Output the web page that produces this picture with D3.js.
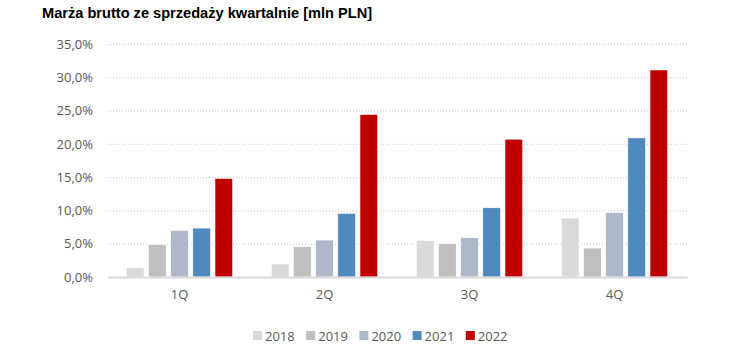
<!DOCTYPE html>
<html><head><meta charset="utf-8">
<script src="https://cdn.jsdelivr.net/npm/d3@7"></script>
<style>body{margin:0;background:#fff}svg{display:block}</style>
</head><body>
<svg id="c" width="750" height="356"></svg>
<script>
const categories = ["1Q","2Q","3Q","4Q"];
const seriesNames = ["2018","2019","2020","2021","2022"];
const s2018 = [1.4, 1.95, 5.45, 8.85];
const s2019 = [4.85, 4.55, 5.0, 4.35];
const s2020 = [7.0, 5.55, 5.9, 9.7];
const s2021 = [7.35, 9.55, 10.4, 20.9];
const s2022 = [14.8, 24.4, 20.7, 31.1];
const yTicks = [0,5,10,15,20,25,30,35];
const colors = ["#d9d9d9","#bfbfbf","#adb9ca","#4f89bd","#c00000"];
const title = "Marża brutto ze sprzedaży kwartalnie [mln PLN]";

const series = [s2018,s2019,s2020,s2021,s2022];
const svg = d3.select("#c");
const x = d3.scaleBand().domain(categories).range([107,687]).paddingInner(0).paddingOuter(0);
const xs = d3.scaleBand().domain(seriesNames).range([0,x.bandwidth()]).paddingInner(0.2).paddingOuter(0.87);
const y = d3.scaleLinear().domain([0,35]).range([277,44]);
const fmt = v => v.toFixed(1).replace(".",",") + "%";

svg.append("text").attr("x",42).attr("y",17.5).text(title)
  .attr("font-family","Liberation Sans, Arial, sans-serif").attr("font-weight","bold").attr("font-size",14.6).attr("fill","#000");

const yAxis = d3.axisLeft(y).tickValues(yTicks).tickFormat(fmt).tickSize(0).tickPadding(14);
const gy = svg.append("g").attr("transform","translate(107,0)").call(yAxis);
gy.select(".domain").remove();
gy.selectAll("text").attr("font-family","Open Sans, sans-serif").attr("font-size",13).attr("fill","#595959");

svg.append("g").selectAll("line").data(yTicks.filter(d=>d>0)).join("line")
  .attr("x1",107).attr("x2",687).attr("y1",d=>y(d)+0.5).attr("y2",d=>y(d)+0.5)
  .attr("stroke","#c8c8c8").attr("stroke-width",1).attr("stroke-dasharray","1,2");

const g = svg.append("g");
categories.forEach((c,i)=>{
  seriesNames.forEach((s,j)=>{
    g.append("rect").attr("x",x(c)+xs(s)).attr("y",y(series[j][i]))
      .attr("width",xs.bandwidth()).attr("height",y(0)-y(series[j][i]))
      .attr("fill",colors[j]).attr("stroke","#fff").attr("stroke-width",0.6);
  });
});

const xAxis = d3.axisBottom(x).tickSize(0).tickPadding(13);
const gx = svg.append("g").attr("transform","translate(0,277)").call(xAxis);
gx.select(".domain").attr("stroke","#d9d9d9").attr("stroke-width",2);
gx.selectAll("text").attr("font-family","Open Sans, sans-serif").attr("font-size",13).attr("fill","#595959");

const lx = d3.scaleBand().domain(seriesNames).range([253,519]);
const lg = svg.append("g").selectAll("g").data(seriesNames).join("g")
  .attr("transform",d=>`translate(${lx(d)},331)`);
lg.append("rect").attr("width",9).attr("height",9).attr("fill",(d,i)=>colors[i]);
lg.append("text").attr("x",12).attr("y",10).text(d=>d)
  .attr("font-family","Open Sans, sans-serif").attr("font-size",13).attr("fill","#595959");
</script>
</body></html>
